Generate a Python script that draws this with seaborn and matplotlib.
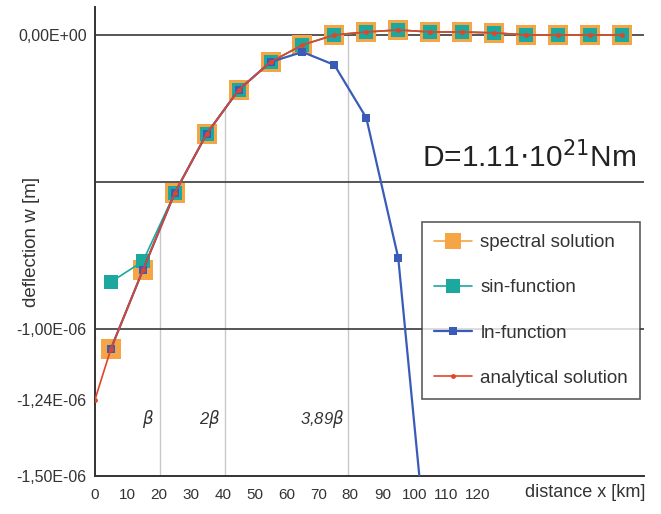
import numpy as np
import pandas as pd
import seaborn as sns
import matplotlib
matplotlib.use("Agg")
import matplotlib.pyplot as plt
from matplotlib.lines import Line2D

# ---- data (units: km and 1e-6 m) ----
x_pts = [5, 15, 25, 35, 45, 55, 65, 75, 85, 95, 105, 115, 125, 135, 145, 155, 165]
spectral = [-1.067, -0.80, -0.537, -0.336, -0.187, -0.092, -0.034, 0.0, 0.010, 0.017,
            0.010, 0.010, 0.007, 0.0, 0.0, 0.0, 0.0]
sin_fn = [-0.84, -0.77, -0.537, -0.336, -0.187, -0.092, -0.034, 0.0, 0.010, 0.017,
          0.010, 0.010, 0.007, 0.0, 0.0, 0.0, 0.0]
ln_x = [5, 15, 25, 35, 45, 55, 65, 75, 85, 95, 105]
ln_fn = [-1.067, -0.80, -0.537, -0.336, -0.187, -0.092, -0.058, -0.102, -0.282, -0.758, -1.88]
an_x = [0] + x_pts
analytical = [-1.24] + spectral
beta = 20.4
beta_marks = [1.0, 2.0, 3.89]
beta_labels = [r"$\beta$", r"2$\beta$", r"3,89$\beta$"]
beta_label_shift = [3.8, 4.8, 8.2]
ytick_vals = [0.0, -1.0, -1.24, -1.5]
ytick_labels = ["0,00E+00", "-1,00E-06", "-1,24E-06", "-1,50E-06"]
xtick_vals = list(range(0, 180, 10))
xtick_labels = [str(v) if v <= 120 else "" for v in xtick_vals]

scale = 1e-6
c_orange = "#F5A446"
c_teal = "#1BA89F"
c_blue = "#3A5CB8"
c_red = "#E0452A"
c_text = "#333333"

sns.set_theme(style="white")
plt.rcParams["font.family"] = ["Liberation Sans", "DejaVu Sans"]

fig = plt.figure(figsize=(6.61, 5.14), dpi=100)
ax = fig.add_axes([95 / 661, 38 / 514, 549 / 661, 469 / 514])

# gridlines
for gv in [0.0, -0.5, -1.0]:
    ax.axhline(gv * scale, color="#3a3a3a", lw=1.2, zorder=1)

# drop lines at beta positions
for m in beta_marks:
    xv = m * beta
    yv = np.interp(xv, an_x, analytical) * scale
    ax.plot([xv, xv], [-1.5 * scale, yv], color="#c8c8c8", lw=1.0, zorder=0.5)

df_s = pd.DataFrame({"x": x_pts, "y": np.array(spectral) * scale})
df_sin = pd.DataFrame({"x": x_pts, "y": np.array(sin_fn) * scale})
df_ln = pd.DataFrame({"x": ln_x, "y": np.array(ln_fn) * scale})
df_an = pd.DataFrame({"x": an_x, "y": np.array(analytical) * scale})

sns.lineplot(data=df_s, x="x", y="y", ax=ax, color=c_orange, lw=1.2, marker="s",
             markersize=14.5, markeredgewidth=0, zorder=3)
sns.lineplot(data=df_sin, x="x", y="y", ax=ax, color=c_teal, lw=1.2, marker="s",
             markersize=9.5, markeredgewidth=0, zorder=4)
sns.lineplot(data=df_ln, x="x", y="y", ax=ax, color=c_blue, lw=1.6, marker="s",
             markersize=6, markeredgewidth=0, zorder=5)
sns.lineplot(data=df_an, x="x", y="y", ax=ax, color=c_red, lw=1.2, marker="o",
             markersize=3.5, markeredgewidth=0, zorder=6)

ax.set_xlim(0, 172)
ax.set_ylim(-1.5 * scale, 0.095 * scale)

ax.set_yticks([v * scale for v in ytick_vals])
ax.set_yticklabels(ytick_labels)
ax.set_xticks(xtick_vals)
ax.set_xticklabels(xtick_labels)

ax.tick_params(axis="both", colors="#333333", labelcolor=c_text)
ax.tick_params(axis="x", direction="inout", length=7, width=1.2, pad=5, labelsize=11)
ax.tick_params(axis="y", direction="out", length=4, width=1.2, pad=2, labelsize=11.5)

for s in ["top", "right"]:
    ax.spines[s].set_visible(False)
for s in ["left", "bottom"]:
    ax.spines[s].set_color("#333333")
    ax.spines[s].set_linewidth(1.4)

ax.set_xlabel("")
ax.set_ylabel("deflection w [m]", fontsize=13.5, color=c_text)
ax.yaxis.set_label_coords(-0.1, 0.5)

ax.text(1.003, -0.036, "distance x [km]", transform=ax.transAxes, ha="right", va="center",
        fontsize=13, color=c_text)

for m, lab, sh in zip(beta_marks, beta_labels, beta_label_shift):
    ax.text(m * beta - sh, -1.305 * scale, lab, ha="center", va="center", fontsize=12,
            color=c_text, style="italic")

ax.text(0.985, 0.68, r"D=1.11$\cdot$10$^{21}$Nm", transform=ax.transAxes, ha="right",
        va="center", fontsize=21.5, color="#222222")

handles = [
    Line2D([], [], color=c_orange, marker="s", markersize=12, markeredgewidth=0, lw=1.2),
    Line2D([], [], color=c_teal, marker="s", markersize=10, markeredgewidth=0, lw=1.2),
    Line2D([], [], color=c_blue, marker="s", markersize=6, markeredgewidth=0, lw=1.6),
    Line2D([], [], color=c_red, marker="o", markersize=3.5, markeredgewidth=0, lw=1.2),
]
labels = ["spectral solution", "sin-function", "ln-function", "analytical solution"]
leg = ax.legend(handles, labels, loc="upper left", bbox_to_anchor=(0.596, 0.542),
                frameon=True, fancybox=False, edgecolor="#333333", fontsize=13.5,
                labelspacing=1.5, handlelength=2.0, borderpad=0.65, handletextpad=0.45,
                borderaxespad=0)
leg.get_frame().set_linewidth(1.2)
for t in leg.get_texts():
    t.set_color(c_text)

fig.savefig("out.png", dpi=100)
